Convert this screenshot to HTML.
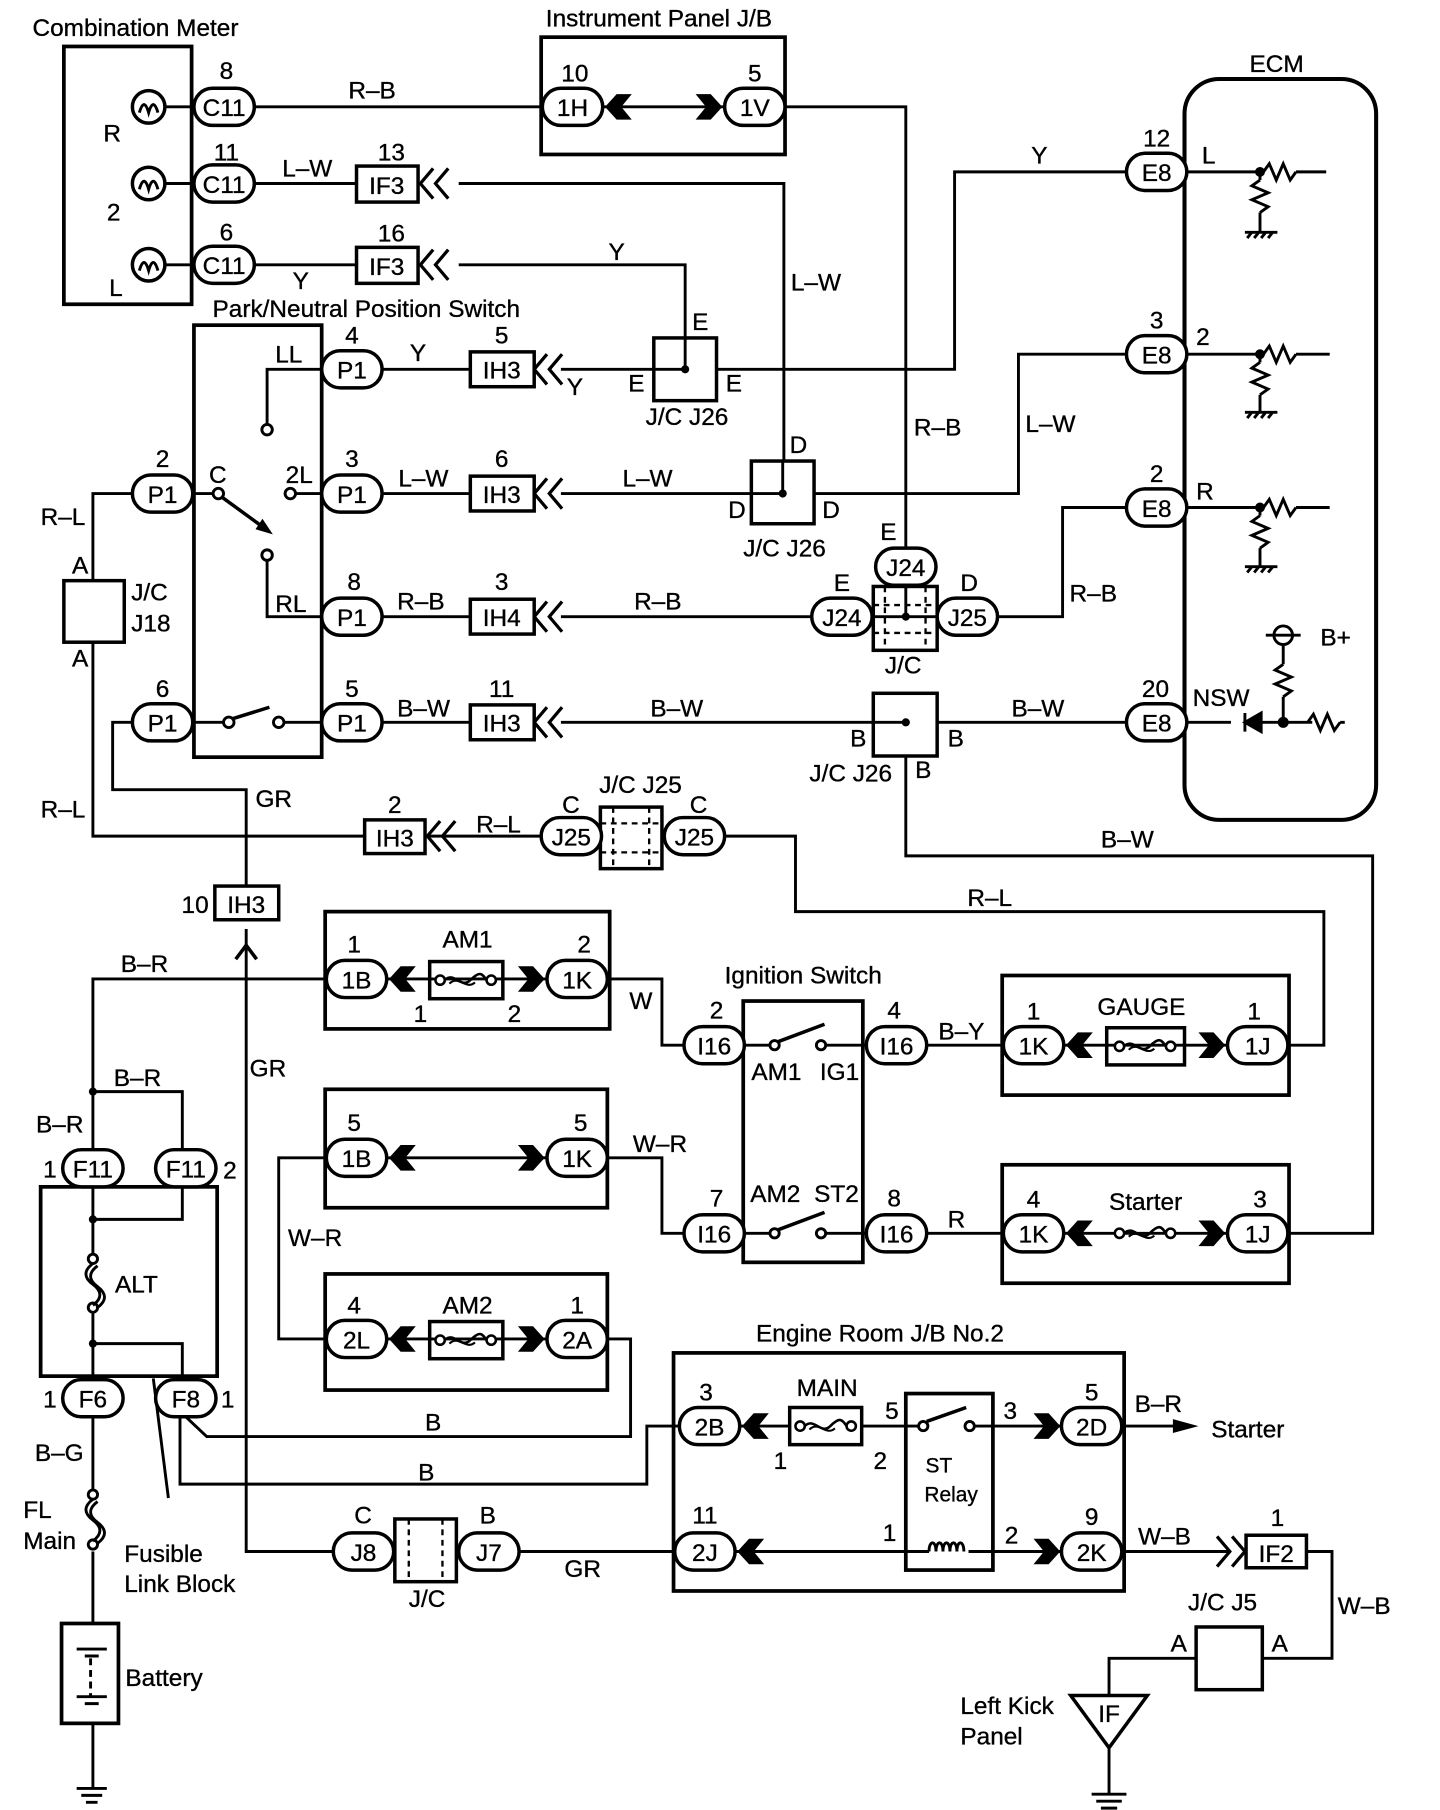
<!DOCTYPE html>
<html><head><meta charset="utf-8"><style>
html,body{margin:0;padding:0;background:#fff}
svg{display:block}
text{font-family:"Liberation Sans",Arial,sans-serif;font-size:21px;fill:#000;stroke:#000;stroke-width:0.3px}
.m{text-anchor:middle}
</style></head><body>
<svg width="1440" height="1810" viewBox="0 0 1240 1558.6" xmlns="http://www.w3.org/2000/svg">
<defs>
<path id="aL" d="M0,0 l10,-11 h13 l-9,11 l9,11 h-13z" fill="#000"/>
<path id="aR" d="M0,0 l-10,-11 h-13 l9,11 l-9,11 h13z" fill="#000"/>
<path id="ch" d="M11,-13 L0,0 L11,13 M24,-13 L13,0 L24,13" fill="none" stroke="#000" stroke-width="2.8"/>
<path id="chR" d="M-11,-13 L0,0 L-11,13 M-24,-13 L-13,0 L-24,13" fill="none" stroke="#000" stroke-width="2.8"/>
<g id="fz"><circle cx="-22" cy="0" r="4" fill="#fff" stroke="#000" stroke-width="2.2"/><circle cx="22" cy="0" r="4" fill="#fff" stroke="#000" stroke-width="2.2"/><path d="M-18,0 C-10,-8 -4,8 4,0 S14,-6 18,0" fill="none" stroke="#000" stroke-width="2.2"/><path d="M-14,3 C-6,-5 0,9 8,2" fill="none" stroke="#000" stroke-width="1.8"/></g>
<g id="rz"><path d="M0,0 l5,-7 l6,14 l6,-14 l6,14 l5,-7" fill="none" stroke="#000" stroke-width="2.5"/></g>
<g id="rzv"><path d="M0,0 l-7,5 l14,6 l-14,6 l14,6 l-7,5" fill="none" stroke="#000" stroke-width="2.5"/></g>
</defs>
<g fill="none" stroke="#000" stroke-width="2.5">
<rect x="55" y="40" width="110" height="222" stroke-width="3.2"/>
<circle cx="128" cy="92" r="14" stroke-width="3"/><circle cx="128" cy="158" r="14" stroke-width="3"/><circle cx="128" cy="228" r="14" stroke-width="3"/>
<path d="M120,97 q4,-14 8,0 q4,-14 8,0 M120,163 q4,-14 8,0 q4,-14 8,0 M120,233 q4,-14 8,0 q4,-14 8,0"/>
<path d="M142,92 H167 M142,158 H167 M142,228 H167"/>
<path d="M219,92 H467"/>
<path d="M676,92 H780 V472"/>
<path d="M219,158 H307 M395,158 H675 V397"/>
<path d="M219,228 H307 M395,228 H590 V318"/>
<rect x="466" y="32" width="210" height="101" stroke-width="3.2"/>
<path d="M519,92 H624"/>
<rect x="167" y="280" width="110" height="372" stroke-width="3.2"/>
<path d="M277,318 H230 V366"/>
<circle cx="230" cy="370" r="4.5"/>
<circle cx="250" cy="425" r="4.5"/><path d="M254,425 H277"/>
<circle cx="188" cy="425" r="4.5"/><path d="M167,425 H184"/>
<path d="M191,428 L228,455" stroke-width="3"/><path d="M232,458 l-10,-3 l4,-6z" fill="#000"/>
<circle cx="230" cy="478" r="4.5"/><path d="M230,482 V531 H277"/>
<path d="M167,622 H193"/><circle cx="197" cy="622" r="4.5"/><circle cx="240" cy="622" r="4.5"/><path d="M244,622 H277"/>
<path d="M200,619 L232,609" stroke-width="3"/>
<path d="M329,318 H405 M483,318 H563"/>
<path d="M617,318 H822 V148 H970"/>
<path d="M329,425 H405 M483,425 H647"/>
<path d="M700,425 H877 V305 H970"/>
<path d="M329,531 H405 M483,531 H699"/>
<path d="M859,531 H915 V437 H970"/>
<path d="M329,622 H405 M483,622 H752"/>
<path d="M807,622 H970"/>
<path d="M780,651 V737 H1182 V1062 H1110"/>
<rect x="563" y="291" width="54" height="54" stroke-width="3"/>
<rect x="647" y="397" width="54" height="54" stroke-width="3"/>
<rect x="752" y="597" width="55" height="54" stroke-width="3"/>
<path d="M590,318 H563 M674,397 V425 H647 M780,622 H752"/>
<rect x="752" y="505" width="55" height="55" stroke-width="3"/>
<path d="M762,505 V560 M797,505 V560 M752,521 H807 M752,545 H807" stroke-dasharray="5,4" stroke-width="2"/>
<path d="M780,504 V531 H751 M780,531 H807"/>
<path d="M114,425 H80 V500 M80,553 V720 H314"/>
<rect x="55" y="500" width="52" height="53" stroke-width="3"/>
<path d="M114,622 H97 V680 H212 V763"/>
<path d="M212,800 V1336 H287"/>
<path d="M203,826 L212,814 L221,826" stroke-width="3"/>
<path d="M366,720 H466 M624,720 H685 V785 H1140 V900 H1110"/>
<rect x="517" y="695" width="53" height="53" stroke-width="3"/>
<path d="M517,709 H570 M517,734 H570 M528,695 V748 M559,695 V748" stroke-dasharray="5,4" stroke-width="2"/>
<rect x="1020" y="68" width="165" height="638" rx="30" stroke-width="3.5"/>
<path d="M1021,148 H1085 M1021,305 H1085 M1021,437 H1085 M1021,622 H1060"/>
<rect x="280" y="785" width="245" height="101" stroke-width="3.2"/>
<path d="M333,843 H471 M523,843 H570 V900 H589"/>
<rect x="370" y="828" width="63" height="32" stroke-width="3"/>
<path d="M281,843 H80 V1006 M80,940 H157 V992"/>
<rect x="280" y="938" width="243" height="102" stroke-width="3.2"/>
<path d="M333,997 H471 M523,997 H570 V1062 H589"/>
<path d="M281,997 H240 V1153 H281"/>
<rect x="280" y="1097" width="243" height="100" stroke-width="3.2"/>
<path d="M333,1153 H471 M523,1153 H543 V1237 H178 L160,1220"/>
<rect x="370" y="1138" width="63" height="32" stroke-width="3"/>
<path d="M585,1228 H557 V1278 H155 V1220"/>
<rect x="640" y="862" width="103" height="225" stroke-width="3.2"/>
<path d="M641,900 H663 M711,900 H746 M641,1062 H663 M711,1062 H746"/>
<circle cx="667" cy="900" r="4"/><circle cx="707" cy="900" r="4"/>
<circle cx="667" cy="1062" r="4"/><circle cx="707" cy="1062" r="4"/>
<path d="M670,897 L710,882" stroke-width="3"/><path d="M670,1059 L710,1044" stroke-width="3"/>
<path d="M798,900 H864 M798,1062 H864"/>
<rect x="863" y="840" width="247" height="103" stroke-width="3.2"/>
<path d="M916,900 H1057"/>
<rect x="953" y="885" width="67" height="32" stroke-width="3"/>
<rect x="863" y="1003" width="247" height="102" stroke-width="3.2"/>
<path d="M916,1062 H1057"/>
<rect x="35" y="1022" width="152" height="163" stroke-width="3.2"/>
<path d="M80,1022 V1080 M80,1130 V1188 M157,1022 V1050 H80 M80,1157 H157 V1188"/>
<circle cx="80" cy="1084" r="4"/><circle cx="80" cy="1126" r="4"/>
<path d="M80,1088 c-8,6 -8,12 0,18 s8,12 0,18 M84,1090 c-8,6 -8,12 0,18 s8,12 0,18"/>
<path d="M132,1187 L145,1290"/>
<path d="M80,1220 V1283 M80,1336 V1398 M80,1484 V1540"/>
<circle cx="80" cy="1287" r="4"/><circle cx="80" cy="1330" r="4"/>
<path d="M80,1291 c-8,6 -8,12 0,18 s8,12 0,18 M84,1293 c-8,6 -8,12 0,18 s8,12 0,18"/>
<rect x="53" y="1398" width="49" height="86" stroke-width="3.2"/>
<path d="M66,1420 H92 M73,1426 H85 M66,1461 H92 M73,1467 H85"/>
<path d="M78,1428 V1460" stroke-dasharray="6,4"/>
<path d="M66,1540 H92 M70,1546 H88 M74,1552 H84"/>
<rect x="340" y="1308" width="53" height="54" stroke-width="3"/>
<path d="M352,1308 V1362 M381,1308 V1362" stroke-dasharray="5,4" stroke-width="2"/>
<path d="M447,1336 H581"/>
<rect x="580" y="1165" width="388" height="205" stroke-width="3.2"/>
<path d="M637,1228 H680 M742,1228 H791"/>
<rect x="680" y="1212" width="62" height="32" stroke-width="3"/>
<rect x="780" y="1200" width="75" height="152" stroke-width="3.2"/>
<circle cx="795" cy="1228" r="4"/><circle cx="835" cy="1228" r="4"/>
<path d="M798,1224 L832,1212" stroke-width="3"/>
<path d="M839,1228 H915"/>
<path d="M633,1336 H800 M834,1336 H915"/>
<path d="M800,1336 c0,-10 6,-10 6,0 c0,-10 6,-10 6,0 c0,-10 6,-10 6,0 c0,-10 6,-10 6,0 c0,-10 6,-10 6,0"/>
<path d="M966,1228 H1012 M966,1336 H1060"/>
<path d="M1125,1336 H1147 V1428 H1087 M1030,1428 H955 V1460"/>
<rect x="1073" y="1322" width="52" height="28" stroke-width="3"/>
<rect x="1030" y="1401" width="57" height="54" stroke-width="3"/>
<path d="M922,1460 H988 L955,1505 Z" stroke-width="3"/>
<path d="M955,1505 V1545 M940,1545 H970 M944,1551 H966 M948,1557 H962"/>
</g>
<g fill="none" stroke="#000" stroke-width="2.5">
<circle cx="1085" cy="148" r="3" fill="#000"/><use href="#rz" x="1088" y="148"/><path d="M1116,148 H1142 M1085,148 V155"/><use href="#rzv" x="1085" y="155"/><path d="M1085,183 V200 M1072,200 H1100 M1074,205 l4,-5 M1080,205 l4,-5 M1086,205 l4,-5 M1092,205 l4,-5"/>
<circle cx="1085" cy="305" r="3" fill="#000"/><use href="#rz" x="1088" y="305"/><path d="M1116,305 H1145 M1085,305 V312"/><use href="#rzv" x="1085" y="312"/><path d="M1085,340 V355 M1072,355 H1100 M1074,360 l4,-5 M1080,360 l4,-5 M1086,360 l4,-5 M1092,360 l4,-5"/>
<circle cx="1085" cy="437" r="3" fill="#000"/><use href="#rz" x="1088" y="437"/><path d="M1116,437 H1145 M1085,437 V444"/><use href="#rzv" x="1085" y="444"/><path d="M1085,472 V488 M1072,488 H1100 M1074,493 l4,-5 M1080,493 l4,-5 M1086,493 l4,-5 M1092,493 l4,-5"/>
<path d="M1082,622 H1130"/><path d="M1072,614 V630 M1072,622 l14,-8 v16z" fill="#000"/>
<circle cx="1105" cy="622" r="3.5" fill="#000"/><use href="#rz" x="1126" y="622"/><path d="M1154,622 H1158"/>
<path d="M1105,622 V600"/><use href="#rzv" x="1105" y="572"/><path d="M1105,572 V556"/>
<circle cx="1105" cy="547" r="8"/><path d="M1090,547 H1120"/>
</g>
<circle cx="590" cy="318" r="3.5"/><circle cx="674" cy="425" r="3.5"/><circle cx="780" cy="622" r="3.5"/><circle cx="780" cy="531" r="3.5"/>
<circle cx="80" cy="940" r="3.5"/><circle cx="80" cy="1050" r="3.5"/><circle cx="80" cy="1157" r="3.5"/>
<use href="#aL" x="521" y="92"/><use href="#aR" x="622" y="92"/>
<use href="#ch" x="362" y="158"/><use href="#ch" x="362" y="228"/>
<use href="#ch" x="460" y="318"/><use href="#ch" x="460" y="425"/><use href="#ch" x="460" y="531"/><use href="#ch" x="460" y="622"/>
<use href="#ch" x="368" y="720"/>
<use href="#aL" x="335" y="843"/><use href="#aR" x="469" y="843"/>
<use href="#aL" x="335" y="997"/><use href="#aR" x="469" y="997"/>
<use href="#aL" x="335" y="1153"/><use href="#aR" x="469" y="1153"/>
<use href="#aL" x="918" y="900"/><use href="#aR" x="1055" y="900"/>
<use href="#aL" x="918" y="1062"/><use href="#aR" x="1055" y="1062"/>
<use href="#aL" x="639" y="1228"/><use href="#aR" x="913" y="1228"/>
<use href="#aL" x="635" y="1336"/><use href="#aR" x="913" y="1336"/>
<use href="#chR" x="1072" y="1336"/>
<path d="M1032,1228 l-22,-6 v12z" fill="#000"/>
<g fill="none" stroke="#000"><use href="#fz" x="401" y="844"/><use href="#fz" x="401" y="1154"/><use href="#fz" x="711" y="1228"/><use href="#fz" x="986" y="901"/><use href="#fz" x="986" y="1062"/></g>
<g fill="#fff" stroke="#000" stroke-width="3">
<rect x="167" y="76" width="52" height="32" rx="16"/><rect x="167" y="142" width="52" height="32" rx="16"/><rect x="167" y="212" width="52" height="32" rx="16"/>
<rect x="467" y="76" width="52" height="32" rx="16"/><rect x="624" y="76" width="52" height="32" rx="16"/>
<rect x="277" y="302" width="52" height="32" rx="16"/><rect x="277" y="409" width="52" height="32" rx="16"/><rect x="277" y="515" width="52" height="32" rx="16"/><rect x="277" y="606" width="52" height="32" rx="16"/>
<rect x="114" y="409" width="52" height="32" rx="16"/><rect x="114" y="606" width="52" height="32" rx="16"/>
<rect x="970" y="132" width="52" height="32" rx="16"/><rect x="970" y="289" width="52" height="32" rx="16"/><rect x="970" y="421" width="52" height="32" rx="16"/><rect x="970" y="606" width="52" height="32" rx="16"/>
<rect x="699" y="515" width="52" height="32" rx="16"/><rect x="754" y="472" width="52" height="32" rx="16"/><rect x="807" y="515" width="52" height="32" rx="16"/>
<rect x="466" y="704" width="52" height="32" rx="16"/><rect x="572" y="704" width="52" height="32" rx="16"/>
<rect x="281" y="827" width="52" height="32" rx="16"/><rect x="471" y="827" width="52" height="32" rx="16"/>
<rect x="281" y="981" width="52" height="32" rx="16"/><rect x="471" y="981" width="52" height="32" rx="16"/>
<rect x="281" y="1137" width="52" height="32" rx="16"/><rect x="471" y="1137" width="52" height="32" rx="16"/>
<rect x="589" y="884" width="52" height="32" rx="16"/><rect x="746" y="884" width="52" height="32" rx="16"/>
<rect x="589" y="1046" width="52" height="32" rx="16"/><rect x="746" y="1046" width="52" height="32" rx="16"/>
<rect x="864" y="884" width="52" height="32" rx="16"/><rect x="1057" y="884" width="52" height="32" rx="16"/>
<rect x="864" y="1046" width="52" height="32" rx="16"/><rect x="1057" y="1046" width="52" height="32" rx="16"/>
<rect x="54" y="990" width="52" height="32" rx="16"/><rect x="134" y="990" width="52" height="32" rx="16"/>
<rect x="54" y="1188" width="52" height="32" rx="16"/><rect x="134" y="1188" width="52" height="32" rx="16"/>
<rect x="585" y="1212" width="52" height="32" rx="16"/><rect x="914" y="1212" width="52" height="32" rx="16"/>
<rect x="581" y="1320" width="52" height="32" rx="16"/><rect x="914" y="1320" width="52" height="32" rx="16"/>
<rect x="287" y="1320" width="52" height="32" rx="16"/><rect x="395" y="1320" width="52" height="32" rx="16"/>
<rect x="307" y="143" width="53" height="31"/><rect x="307" y="213" width="53" height="31"/>
<rect x="405" y="303" width="55" height="30"/><rect x="405" y="410" width="55" height="30"/><rect x="405" y="516" width="55" height="30"/><rect x="405" y="607" width="55" height="30"/>
<rect x="314" y="706" width="52" height="29"/><rect x="185" y="763" width="55" height="29"/>
</g>
<g>
<text x="193" y="100" class="m">C11</text><text x="193" y="166" class="m">C11</text><text x="193" y="236" class="m">C11</text>
<text x="493" y="100" class="m">1H</text><text x="650" y="100" class="m">1V</text>
<text x="303" y="326" class="m">P1</text><text x="303" y="433" class="m">P1</text><text x="303" y="539" class="m">P1</text><text x="303" y="630" class="m">P1</text>
<text x="140" y="433" class="m">P1</text><text x="140" y="630" class="m">P1</text>
<text x="996" y="156" class="m">E8</text><text x="996" y="313" class="m">E8</text><text x="996" y="445" class="m">E8</text><text x="996" y="630" class="m">E8</text>
<text x="725" y="539" class="m">J24</text><text x="780" y="496" class="m">J24</text><text x="833" y="539" class="m">J25</text>
<text x="492" y="728" class="m">J25</text><text x="598" y="728" class="m">J25</text>
<text x="307" y="851" class="m">1B</text><text x="497" y="851" class="m">1K</text>
<text x="307" y="1005" class="m">1B</text><text x="497" y="1005" class="m">1K</text>
<text x="307" y="1161" class="m">2L</text><text x="497" y="1161" class="m">2A</text>
<text x="615" y="908" class="m">I16</text><text x="772" y="908" class="m">I16</text>
<text x="615" y="1070" class="m">I16</text><text x="772" y="1070" class="m">I16</text>
<text x="890" y="908" class="m">1K</text><text x="1083" y="908" class="m">1J</text>
<text x="890" y="1070" class="m">1K</text><text x="1083" y="1070" class="m">1J</text>
<text x="80" y="1014" class="m">F11</text><text x="160" y="1014" class="m">F11</text>
<text x="80" y="1212" class="m">F6</text><text x="160" y="1212" class="m">F8</text>
<text x="611" y="1236" class="m">2B</text><text x="940" y="1236" class="m">2D</text>
<text x="607" y="1344" class="m">2J</text><text x="940" y="1344" class="m">2K</text>
<text x="313" y="1344" class="m">J8</text><text x="421" y="1344" class="m">J7</text>
<text x="333" y="167" class="m">IF3</text><text x="333" y="237" class="m">IF3</text>
<text x="432" y="326" class="m">IH3</text><text x="432" y="433" class="m">IH3</text><text x="432" y="539" class="m">IH4</text><text x="432" y="630" class="m">IH3</text>
<text x="340" y="729" class="m">IH3</text><text x="212" y="786" class="m">IH3</text>
<text x="1099" y="1345" class="m">IF2</text>
<text x="955" y="1483" class="m">IF</text>
<text x="195" y="68" class="m">8</text><text x="195" y="138" class="m">11</text><text x="195" y="207" class="m">6</text>
<text x="495" y="70" class="m">10</text><text x="650" y="70" class="m">5</text>
<text x="337" y="138" class="m">13</text><text x="337" y="208" class="m">16</text>
<text x="303" y="296" class="m">4</text><text x="303" y="402" class="m">3</text><text x="305" y="508" class="m">8</text><text x="303" y="600" class="m">5</text>
<text x="140" y="402" class="m">2</text><text x="140" y="600" class="m">6</text>
<text x="432" y="296" class="m">5</text><text x="432" y="402" class="m">6</text><text x="432" y="508" class="m">3</text><text x="432" y="600" class="m">11</text>
<text x="340" y="700" class="m">2</text>
<text x="996" y="126" class="m">12</text><text x="996" y="283" class="m">3</text><text x="996" y="415" class="m">2</text><text x="995" y="600" class="m">20</text>
<text x="305" y="820" class="m">1</text><text x="503" y="820" class="m">2</text><text x="362" y="880" class="m">1</text><text x="443" y="880" class="m">2</text>
<text x="305" y="974" class="m">5</text><text x="500" y="974" class="m">5</text>
<text x="305" y="1131" class="m">4</text><text x="497" y="1131" class="m">1</text>
<text x="617" y="877" class="m">2</text><text x="770" y="877" class="m">4</text><text x="617" y="1039" class="m">7</text><text x="770" y="1039" class="m">8</text>
<text x="890" y="878" class="m">1</text><text x="1080" y="878" class="m">1</text><text x="890" y="1040" class="m">4</text><text x="1085" y="1040" class="m">3</text>
<text x="608" y="1206" class="m">3</text><text x="940" y="1206" class="m">5</text><text x="607" y="1312" class="m">11</text><text x="940" y="1313" class="m">9</text>
<text x="768" y="1222" class="m">5</text><text x="672" y="1265" class="m">1</text><text x="758" y="1265" class="m">2</text><text x="870" y="1222" class="m">3</text><text x="766" y="1327" class="m">1</text><text x="871" y="1329" class="m">2</text>
<text x="1100" y="1314" class="m">1</text>
<text x="43" y="1014" class="m">1</text><text x="198" y="1015" class="m">2</text><text x="43" y="1212" class="m">1</text><text x="196" y="1212" class="m">1</text>
<text x="168" y="786" class="m">10</text>
</g>
<text x="28" y="31">Combination Meter</text>
<text x="470" y="23">Instrument Panel J/B</text>
<text x="1076" y="62">ECM</text>
<text x="183" y="273">Park/Neutral Position Switch</text>
<text x="89" y="122">R</text><text x="92" y="190">2</text><text x="94" y="255">L</text>
<text x="300" y="85">R–B</text><text x="243" y="152">L–W</text><text x="252" y="249">Y</text>
<text x="524" y="224">Y</text><text x="681" y="250">L–W</text>
<text x="237" y="312">LL</text><text x="353" y="311">Y</text><text x="488" y="340">Y</text>
<text x="596" y="284">E</text><text x="541" y="337">E</text><text x="625" y="337">E</text><text x="556" y="366">J/C J26</text>
<text x="180" y="416">C</text><text x="246" y="416">2L</text><text x="237" y="527">RL</text>
<text x="343" y="419">L–W</text><text x="536" y="419">L–W</text>
<text x="680" y="390">D</text><text x="627" y="446">D</text><text x="708" y="446">D</text><text x="640" y="479">J/C J26</text>
<text x="787" y="375">R–B</text><text x="883" y="372">L–W</text><text x="888" y="141">Y</text>
<text x="1035" y="141">L</text><text x="1030" y="297">2</text><text x="1030" y="430">R</text>
<text x="1137" y="556">B+</text><text x="1027" y="608">NSW</text>
<text x="342" y="525">R–B</text><text x="546" y="525">R–B</text>
<text x="718" y="509">E</text><text x="758" y="465">E</text><text x="827" y="509">D</text><text x="762" y="580">J/C</text>
<text x="921" y="518">R–B</text>
<text x="342" y="617">B–W</text><text x="560" y="617">B–W</text><text x="871" y="617">B–W</text>
<text x="732" y="643">B</text><text x="816" y="643">B</text><text x="788" y="670">B</text><text x="697" y="673">J/C J26</text>
<text x="948" y="730">B–W</text>
<text x="35" y="452">R–L</text><text x="62" y="494">A</text><text x="62" y="574">A</text><text x="113" y="517">J/C</text><text x="113" y="544">J18</text>
<text x="35" y="704">R–L</text><text x="220" y="695">GR</text>
<text x="410" y="717">R–L</text><text x="484" y="700">C</text><text x="594" y="700">C</text><text x="516" y="683">J/C J25</text>
<text x="833" y="780">R–L</text>
<text x="381" y="816">AM1</text><text x="104" y="837">B–R</text><text x="542" y="869">W</text>
<text x="624" y="847">Ignition Switch</text>
<text x="647" y="930">AM1</text><text x="706" y="930">IG1</text>
<text x="646" y="1035">AM2</text><text x="701" y="1035">ST2</text>
<text x="808" y="895">B–Y</text><text x="945" y="874">GAUGE</text>
<text x="816" y="1057">R</text><text x="955" y="1042">Starter</text>
<text x="98" y="935">B–R</text><text x="31" y="975">B–R</text><text x="215" y="927">GR</text>
<text x="545" y="992">W–R</text><text x="248" y="1073">W–R</text>
<text x="381" y="1131">AM2</text>
<text x="99" y="1113">ALT</text>
<text x="366" y="1232">B</text><text x="360" y="1275">B</text>
<text x="651" y="1155">Engine Room J/B No.2</text>
<text x="686" y="1202">MAIN</text>
<text x="797" y="1268" style="font-size:18px">ST</text><text x="796" y="1293" style="font-size:18px">Relay</text>
<text x="977" y="1216">B–R</text><text x="1043" y="1238">Starter</text>
<text x="980" y="1330">W–B</text><text x="1152" y="1390">W–B</text>
<text x="1023" y="1387">J/C J5</text><text x="1008" y="1422">A</text><text x="1095" y="1422">A</text>
<text x="827" y="1476">Left Kick</text><text x="827" y="1502">Panel</text>
<text x="30" y="1258">B–G</text><text x="20" y="1307">FL</text><text x="20" y="1334">Main</text>
<text x="107" y="1345">Fusible</text><text x="107" y="1371">Link Block</text>
<text x="108" y="1452">Battery</text>
<text x="305" y="1312">C</text><text x="413" y="1312">B</text><text x="352" y="1384">J/C</text>
<text x="486" y="1358">GR</text>
</svg>
</body></html>
